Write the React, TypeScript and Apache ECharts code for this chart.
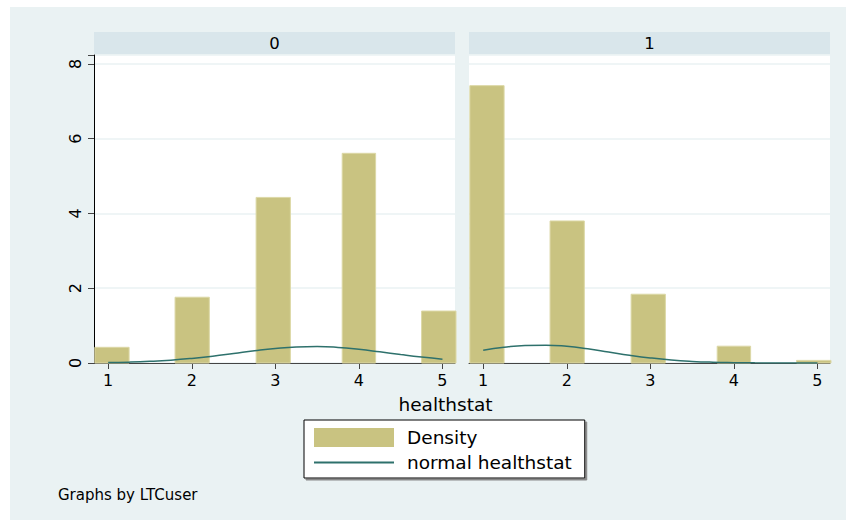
import React, { useEffect, useRef } from "react";
import * as echarts from "echarts";

// Histogram bins (healthstat), shared by both panels
const binStart = [0.84, 1.8, 2.77, 3.8, 4.75];
const binEnd = [1.25, 2.21, 3.18, 4.2, 5.17];
// Density per panel (LTCuser = 0, 1)
const density0 = [0.42, 1.76, 4.43, 5.61, 1.39];
const density1 = [7.42, 3.8, 1.84, 0.45, 0.07];

// Normal density curves, read at these x positions
const curveX = [1, 1.25, 1.5, 1.75, 2, 2.25, 2.5, 2.75, 3, 3.25, 3.5, 3.75, 4, 4.25, 4.5, 4.75, 5];
const normal0 = [0.012, 0.023, 0.044, 0.076, 0.123, 0.183, 0.254, 0.327, 0.389, 0.429, 0.439, 0.417, 0.366, 0.298, 0.225, 0.158, 0.102];
const normal1 = [0.343, 0.42, 0.469, 0.478, 0.446, 0.379, 0.295, 0.209, 0.136, 0.08, 0.043, 0.021, 0.01, 0.004, 0.0015, 0.0005, 0.0002];

const xTicks = [1, 2, 3, 4, 5];
const panelLabels = ["0", "1"];

const FONT = "DejaVu Sans";
const BG = "#EAF2F3";
const HEADER = "#D9E6EB";
const BAR = "#C9C381";
const BAR_EDGE = "#DCD8A6";
const LINE = "#2E716C";

export default function App() {
  const ref = useRef<HTMLDivElement>(null);
  useEffect(() => {
    if (!ref.current) return;
    const chart = echarts.init(ref.current, null, { renderer: "svg" });

    const histData = (vals: number[]) => vals.map((v, i) => [binStart[i], binEnd[i], v]);
    const curveData = (vals: number[]) => vals.map((v, i) => [curveX[i], v]);

    const renderBar = (params: any, api: any) => {
      const cs = params.coordSys;
      const x0 = api.value(0), x1 = api.value(1), y = api.value(2);
      const p0 = api.coord([x0, y]);
      const p1 = api.coord([x1, 0]);
      const left = Math.max(p0[0], cs.x);
      const right = Math.min(p1[0], cs.x + cs.width + 1);
      return {
        type: "rect",
        shape: { x: left, y: p0[1], width: right - left, height: p1[1] - p0[1] },
        style: { fill: BAR, stroke: BAR_EDGE, lineWidth: 1 },
      };
    };

    const grids = [
      { left: 94, top: 55, width: 361, height: 308 },
      { left: 469, top: 55, width: 361, height: 308 },
    ];

    const xAxis = [0, 1].map((i) => ({
      type: "value",
      gridIndex: i,
      min: 0.83,
      max: 5.15,
      axisLine: { show: true, lineStyle: { color: "#444", width: 1 } },
      axisTick: { show: true, length: 6, customValues: xTicks, lineStyle: { color: "#444" } },
      axisLabel: { customValues: xTicks, fontFamily: FONT, fontSize: 16, color: "#000", margin: 9 },
      splitLine: { show: false },
    }));

    const yAxis = [0, 1].map((i) => ({
      type: "value",
      gridIndex: i,
      min: 0,
      max: 8.24,
      interval: 2,
      axisLine: { show: i === 0, lineStyle: { color: "#000", width: 1 } },
      axisTick: { show: i === 0, length: 6, lineStyle: { color: "#444" } },
      axisLabel: {
        show: i === 0,
        rotate: 90,
        fontFamily: FONT,
        fontSize: 16,
        color: "#000",
        margin: 11,
        formatter: (v: number) => (v % 2 === 0 ? String(v) : ""),
      },
      splitLine: { show: true, lineStyle: { color: BG, width: 1.5 } },
    }));

    chart.setOption({
      animation: false,
      backgroundColor: BG,
      grid: grids.map((g) => ({ ...g, show: true, backgroundColor: "#fff", borderWidth: 0 })),
      xAxis,
      yAxis,
      legend: {
        orient: "vertical",
        left: 304,
        top: 420,
        padding: [8, 13, 6, 9],
        itemWidth: 80,
        itemHeight: 19,
        itemGap: 6,
        backgroundColor: "#fff",
        borderColor: "#000",
        borderWidth: 1,
        borderRadius: 0,
        shadowColor: "#888",
        shadowBlur: 0,
        shadowOffsetX: 2,
        shadowOffsetY: 2,
        selectedMode: false,
        textStyle: { fontFamily: FONT, fontSize: 18.5, color: "#000", padding: [0, 0, 0, 8] },
        data: [
          { name: "Density", icon: "rect" },
          { name: "normal healthstat", itemStyle: { opacity: 0 } },
        ],
      },
      graphic: [
        { type: "rect", shape: { x: 0, y: 0, width: 846, height: 7 }, style: { fill: "#fff" }, silent: true },
        { type: "rect", shape: { x: 0, y: 0, width: 10, height: 520 }, style: { fill: "#fff" }, silent: true },
        { type: "rect", shape: { x: 94, y: 32, width: 361, height: 22 }, style: { fill: HEADER }, silent: true },
        { type: "rect", shape: { x: 469, y: 32, width: 361, height: 22 }, style: { fill: HEADER }, silent: true },
        {
          type: "text",
          x: 274.5,
          y: 43,
          style: { text: panelLabels[0], align: "center", verticalAlign: "middle", font: `16.5px "${FONT}"`, fill: "#000" },
        },
        {
          type: "text",
          x: 649.5,
          y: 43,
          style: { text: panelLabels[1], align: "center", verticalAlign: "middle", font: `16.5px "${FONT}"`, fill: "#000" },
        },
        {
          type: "text",
          x: 445.5,
          y: 404.5,
          style: { text: "healthstat", align: "center", verticalAlign: "middle", font: `18.5px "${FONT}"`, fill: "#000" },
        },
        {
          type: "text",
          x: 58,
          y: 495,
          style: { text: "Graphs by LTCuser", align: "left", verticalAlign: "middle", font: `15px "${FONT}"`, fill: "#000" },
        },
      ],
      series: [
        {
          type: "custom",
          name: "Density",
          xAxisIndex: 0,
          yAxisIndex: 0,
          renderItem: renderBar,
          encode: { x: [0, 1], y: 2 },
          itemStyle: { color: BAR, borderColor: BAR_EDGE },
          data: histData(density0),
        },
        {
          type: "custom",
          name: "Density",
          xAxisIndex: 1,
          yAxisIndex: 1,
          renderItem: renderBar,
          encode: { x: [0, 1], y: 2 },
          itemStyle: { color: BAR, borderColor: BAR_EDGE },
          data: histData(density1),
        },
        {
          type: "line",
          name: "normal healthstat",
          xAxisIndex: 0,
          yAxisIndex: 0,
          smooth: true,
          symbol: "none",
          z: 3,
          lineStyle: { color: LINE, width: 1.5 },
          itemStyle: { color: LINE },
          data: curveData(normal0),
        },
        {
          type: "line",
          name: "normal healthstat",
          xAxisIndex: 1,
          yAxisIndex: 1,
          smooth: true,
          symbol: "none",
          z: 3,
          lineStyle: { color: LINE, width: 1.5 },
          itemStyle: { color: LINE },
          data: curveData(normal1),
        },
      ],
    });
    return () => chart.dispose();
  }, []);
  return (
    <div
      ref={ref}
      style={{ position: "absolute", left: 0, top: 0, width: 846, height: 520 }}
    />
  );
}
